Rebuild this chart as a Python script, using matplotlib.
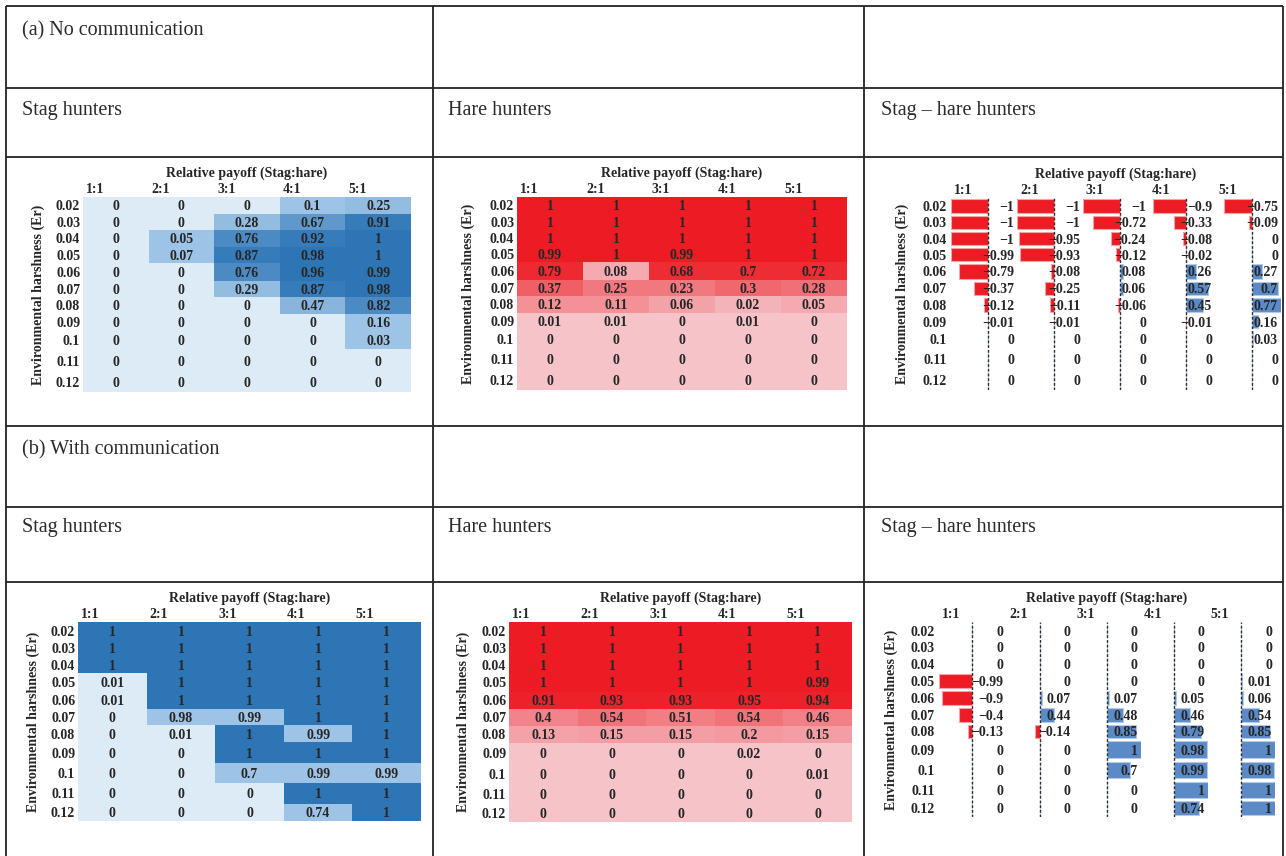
import numpy as np
import matplotlib
matplotlib.use("Agg")
import matplotlib.pyplot as plt
from matplotlib.colors import LinearSegmentedColormap

harshness = ["0.02", "0.03", "0.04", "0.05", "0.06", "0.07", "0.08", "0.09", "0.1", "0.11", "0.12"]
payoff = ["1:1", "2:1", "3:1", "4:1", "5:1"]

# (a) no communication
stag_a = np.array([
    [0, 0, 0, 0.10, 0.25],
    [0, 0, 0.28, 0.67, 0.91],
    [0, 0.05, 0.76, 0.92, 1],
    [0, 0.07, 0.87, 0.98, 1],
    [0, 0, 0.76, 0.96, 0.99],
    [0, 0, 0.29, 0.87, 0.98],
    [0, 0, 0, 0.47, 0.82],
    [0, 0, 0, 0, 0.16],
    [0, 0, 0, 0, 0.03],
    [0, 0, 0, 0, 0],
    [0, 0, 0, 0, 0],
])
hare_a = np.array([
    [1, 1, 1, 1, 1],
    [1, 1, 1, 1, 1],
    [1, 1, 1, 1, 1],
    [0.99, 1, 0.99, 1, 1],
    [0.79, 0.08, 0.68, 0.70, 0.72],
    [0.37, 0.25, 0.23, 0.30, 0.28],
    [0.12, 0.11, 0.06, 0.02, 0.05],
    [0.01, 0.01, 0, 0.01, 0],
    [0, 0, 0, 0, 0],
    [0, 0, 0, 0, 0],
    [0, 0, 0, 0, 0],
])

# (b) with communication
stag_b = np.array([
    [1, 1, 1, 1, 1],
    [1, 1, 1, 1, 1],
    [1, 1, 1, 1, 1],
    [0.01, 1, 1, 1, 1],
    [0.01, 1, 1, 1, 1],
    [0, 0.98, 0.99, 1, 1],
    [0, 0.01, 1, 0.99, 1],
    [0, 0, 1, 1, 1],
    [0, 0, 0.70, 0.99, 0.99],
    [0, 0, 0, 1, 1],
    [0, 0, 0, 0.74, 1],
])
hare_b = np.array([
    [1, 1, 1, 1, 1],
    [1, 1, 1, 1, 1],
    [1, 1, 1, 1, 1],
    [1, 1, 1, 1, 0.99],
    [0.91, 0.93, 0.93, 0.95, 0.94],
    [0.40, 0.54, 0.51, 0.54, 0.46],
    [0.13, 0.15, 0.15, 0.20, 0.15],
    [0, 0, 0, 0.02, 0],
    [0, 0, 0, 0, 0.01],
    [0, 0, 0, 0, 0],
    [0, 0, 0, 0, 0],
])

# cell shading levels (0 = lightest, 1 = darkest)
stag_a_shade = np.array([
    [0, 0, 0, 0.45, 0.5],
    [0, 0, 0.5, 0.75, 0.95],
    [0, 0.45, 0.85, 0.95, 1],
    [0, 0.45, 0.95, 1, 1],
    [0, 0, 0.85, 1, 1],
    [0, 0, 0.5, 0.95, 1],
    [0, 0, 0, 0.55, 0.85],
    [0, 0, 0, 0, 0.45],
    [0, 0, 0, 0, 0.45],
    [0, 0, 0, 0, 0],
    [0, 0, 0, 0, 0],
])
hare_a_shade = np.array([
    [1, 1, 1, 1, 1],
    [1, 1, 1, 1, 1],
    [1, 1, 1, 1, 1],
    [1, 1, 1, 1, 1],
    [0.92, 0.15, 0.9, 0.9, 0.9],
    [0.6, 0.45, 0.45, 0.55, 0.5],
    [0.3, 0.3, 0.2, 0.1, 0.15],
    [0, 0, 0, 0, 0],
    [0, 0, 0, 0, 0],
    [0, 0, 0, 0, 0],
    [0, 0, 0, 0, 0],
])
stag_b_shade = np.array([
    [1, 1, 1, 1, 1],
    [1, 1, 1, 1, 1],
    [1, 1, 1, 1, 1],
    [0, 1, 1, 1, 1],
    [0, 1, 1, 1, 1],
    [0, 0.45, 0.45, 1, 1],
    [0, 0, 1, 0.45, 1],
    [0, 0, 1, 1, 1],
    [0, 0, 0.45, 0.45, 0.45],
    [0, 0, 0, 1, 1],
    [0, 0, 0, 0.45, 1],
])
hare_b_shade = np.array([
    [1, 1, 1, 1, 1],
    [1, 1, 1, 1, 1],
    [1, 1, 1, 1, 1],
    [1, 1, 1, 1, 1],
    [0.97, 0.97, 0.97, 0.97, 0.97],
    [0.38, 0.48, 0.42, 0.48, 0.4],
    [0.2, 0.22, 0.22, 0.25, 0.22],
    [0, 0, 0, 0, 0],
    [0, 0, 0, 0, 0],
    [0, 0, 0, 0, 0],
    [0, 0, 0, 0, 0],
])

# row heights (pixels) of the two table blocks
row_h_a = np.array([16.7, 16, 16.7, 16, 18, 16, 17.3, 16.7, 18.6, 22.4, 20])
row_h_b = np.array([17.6, 16.7, 16.7, 18.3, 17.3, 16.7, 16.7, 21, 20, 20.6, 17.4])

W, H = 1286, 856
INK = "#262626"
FS = 10

blues = LinearSegmentedColormap.from_list(
    "stag", [(0, "#DDEBF7"), (0.45, "#9DC3E6"), (1, "#2E75B6")])
reds = LinearSegmentedColormap.from_list(
    "hare", [(0, "#F5C3C8"), (1, "#ED1C24")])

plt.rcParams['font.family'] = ['Liberation Serif', 'DejaVu Serif']

fig = plt.figure(figsize=(W / 100, H / 100), dpi=100)
frame = fig.add_axes([0, 0, 1, 1])
frame.set_xlim(0, W)
frame.set_ylim(H, 0)
frame.axis('off')

# table rules
for x in (6, 433, 864, 1283):
    frame.plot([x, x], [6, H], color="#222222", lw=1.3, solid_capstyle='butt')
for y in (6, 88, 157, 426, 507, 582):
    frame.plot([6, 1283], [y, y], color="#222222", lw=1.3, solid_capstyle='butt')

head_kw = dict(fontsize=14.5, color="#2B2B2B", va='baseline', ha='left')
frame.text(22, 35, "(a) No communication", **head_kw)
frame.text(22, 454, "(b) With communication", **head_kw)
for yb in (115, 532):
    frame.text(22, yb, "Stag hunters", **head_kw)
    frame.text(448, yb, "Hare hunters", **head_kw)
    frame.text(881, yb, "Stag – hare hunters", **head_kw)


def fmt(v):
    if v == 0:
        return "0"
    return f"{v:g}".replace("-", "\u2212")


def panel_axes(x0, y0, x1, y1):
    ax = fig.add_axes([x0 / W, 1 - y1 / H, (x1 - x0) / W, (y1 - y0) / H])
    ax.set_facecolor('none')
    for s in ax.spines.values():
        s.set_visible(False)
    ax.set_xticks([])
    return ax


def row_ticks(ax, centers, pad):
    ax.set_yticks(centers, harshness, fontsize=FS, fontweight='bold', color=INK)
    for lab in ax.get_yticklabels():
        lab.set_verticalalignment('center_baseline')
    ax.tick_params(axis='y', length=0, pad=pad)


def panel_labels(box, title_dy, ylab_dx):
    x0, y0, x1, y1 = box
    cw = (x1 - x0) / len(payoff)
    frame.text((x0 + x1) / 2, y0 - title_dy, "Relative payoff (Stag:hare)",
               ha='center', va='center', fontsize=FS, fontweight='bold', color=INK)
    frame.text(x0 - ylab_dx, (y0 + y1) / 2, "Environmental harshness (Er)",
               ha='center', va='center', rotation=90, fontsize=FS,
               fontweight='bold', color=INK)
    for j, p in enumerate(payoff):
        frame.text(x0 + j * cw + 3, y0 - 8, p, ha='left', va='center',
                   fontsize=FS, fontweight='bold', color=INK)


def heat_panel(box, values, shade, cmap, row_h, ylab_dx=46):
    ax = panel_axes(*box)
    edges = np.concatenate([[0], np.cumsum(row_h)])
    centers = (edges[:-1] + edges[1:]) / 2
    ax.pcolormesh(np.arange(len(payoff) + 1), edges, shade, cmap=cmap,
                  vmin=0, vmax=1)
    ax.set_xlim(0, len(payoff))
    ax.set_ylim(edges[-1], 0)
    for i in range(len(harshness)):
        for j in range(len(payoff)):
            ax.text(j + 0.5, centers[i], fmt(values[i, j]), ha='center',
                    va='center_baseline', fontsize=FS, fontweight='bold',
                    color=INK)
    row_ticks(ax, centers, 2)
    panel_labels(box, 24, ylab_dx)


def diff_panel(box, diff, row_h, ylab_dx=48):
    x0, y0, x1, y1 = box
    cw = (x1 - x0) / len(payoff)
    lo, hi = diff.min(), diff.max()
    edges = np.concatenate([[0], np.cumsum(row_h)])
    centers = (edges[:-1] + edges[1:]) / 2
    for j in range(len(payoff)):
        ax = panel_axes(x0 + j * cw, y0, x0 + (j + 1) * cw, y1)
        col = diff[:, j]
        neg = col < 0
        ax.barh(centers, col, height=row_h * 0.82,
                color=np.where(neg, "#ED1C24", "#5B8AC6"),
                edgecolor=np.where(neg, "#F5A3A7", "#B3CBEA"), linewidth=0.8)
        ax.axvline(0, color="#2E2E2E", lw=1.0, ls=(0, (2, 1.4)))
        ax.set_xlim(lo, hi)
        ax.set_ylim(edges[-1], 0)
        for i, v in enumerate(col):
            ax.annotate(fmt(v), xy=(hi, centers[i]), xytext=(-3, 0),
                        textcoords='offset pixels', ha='right',
                        va='center_baseline', fontsize=FS, fontweight='bold',
                        color=INK)
        if j == 0:
            row_ticks(ax, centers, 3)
        else:
            ax.set_yticks([])
    panel_labels(box, 24, ylab_dx)


diff_a = np.round(stag_a - hare_a, 2)
diff_b = np.round(stag_b - hare_b, 2)

heat_panel((83, 197, 411, 392), stag_a, stag_a_shade, blues, row_h_a, 45)
heat_panel((517, 197, 847, 390), hare_a, hare_a_shade, reds, row_h_a, 49)
diff_panel((951, 198, 1281, 390), diff_a, row_h_a, 49)

heat_panel((78, 622, 421, 821), stag_b, stag_b_shade, blues, row_h_b, 45)
heat_panel((509, 622, 852, 822), hare_b, hare_b_shade, reds, row_h_b, 46)
diff_panel((939, 622, 1275, 817), diff_b, row_h_b, 48)

fig.savefig("out.png", dpi=100)
